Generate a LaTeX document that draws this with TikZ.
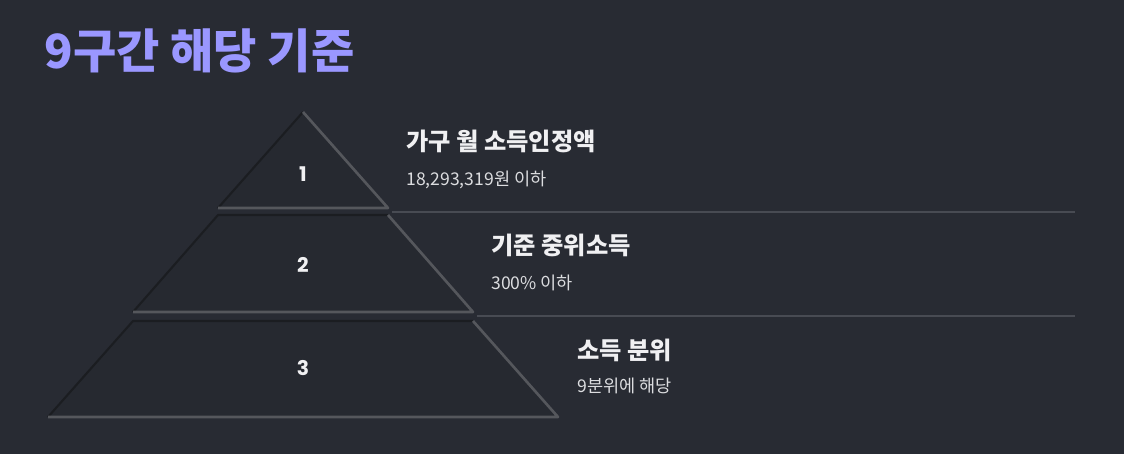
\documentclass[tikz,border=0pt]{standalone}
\usepackage{fontspec}
\setmainfont{Noto Sans CJK KR}
\newfontfamily\numfont{Poppins}
\definecolor{bg}{HTML}{282B33}
\definecolor{layerfill}{HTML}{262930}
\definecolor{edgedark}{HTML}{1B1D21}
\definecolor{edgelight}{HTML}{55575C}
\definecolor{rulecol}{HTML}{484B53}
\definecolor{titlecol}{HTML}{9A97FF}
\definecolor{headcol}{HTML}{F0F0F2}
\definecolor{subcol}{HTML}{DCDDE0}

\begin{document}
\begin{tikzpicture}[x=0.02cm, y=-0.02cm,
    layer/.style={fill=layerfill},
    darkedge/.style={draw=edgedark, line width=1.2pt, line join=round},
    lightedge/.style={draw=edgelight, line width=1.5pt, line join=round},
    num/.style={text=headcol, font=\numfont\bfseries\fontsize{11.5}{13}\selectfont},
    head/.style={anchor=west, inner sep=0pt, text=headcol, font=\bfseries\fontsize{13.8}{16}\selectfont},
    sub/.style={anchor=west, inner sep=0pt, text=subcol, font=\fontsize{10}{12}\selectfont},
    sep/.style={draw=rulecol, line width=0.8pt}]
    \fill[bg](0, 0) rectangle (1124, 454);
    \node[anchor=west, inner sep=0pt, text=titlecol, font=\bfseries\fontsize{26.8}{32}\selectfont] (title) at(44, 51){9구간 해당 기준};
    % pyramid layers
    \foreach \n/\t/\b/\y in {1/112/208/174, 2/215/312/265, 3/321/417/368}{
        \pgfmathsetmacro\wt{85*(\n-1)}
        \pgfmathsetmacro\wb{85*\n}
        \fill[layer](303-\wt, \t)--(303+\wt, \t)--(303+\wb, \b)--(303-\wb, \b)--cycle;
        \draw[darkedge](303-\wb, \b)--(303-\wt, \t)--(303+\wt, \t);
        \draw[lightedge](303+\wt, \t)--(303+\wb, \b)--(303-\wb, \b);
        \node[num] (lvl\n) at(303, \y){\n};
    }
    \coordinate (sepA1) at(392, 212);
    \coordinate (sepA2) at(1075, 212);
    \coordinate (sepB1) at(477, 316);
    \coordinate (sepB2) at(1075, 316);
    \draw[sep](sepA1)--(sepA2);
    \draw[sep](sepB1)--(sepB2);
    \node[head] (headA) at(406, 141){가구 월 소득인정액};
    \node[sub] (subA) at(406, 180){18,293,319원 이하};
    \node[head] (headB) at(491, 245){기준 중위소득};
    \node[sub] (subB) at(491, 283){300\% 이하};
    \node[head] (headC) at(577, 350){소득 분위};
    \node[sub] (subC) at(577, 386){9분위에 해당};
\end{tikzpicture}
\end{document}
